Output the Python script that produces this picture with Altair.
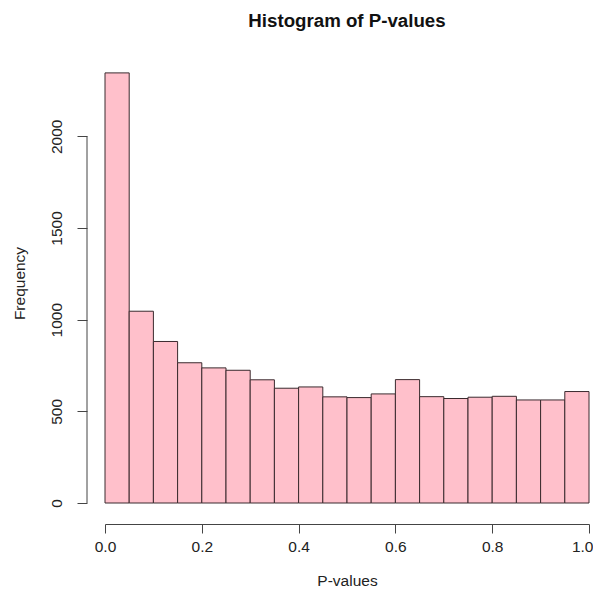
import altair as alt
import pandas as pd

bin_start = [0.00, 0.05, 0.10, 0.15, 0.20, 0.25, 0.30, 0.35, 0.40, 0.45,
             0.50, 0.55, 0.60, 0.65, 0.70, 0.75, 0.80, 0.85, 0.90, 0.95]
bin_end = [0.05, 0.10, 0.15, 0.20, 0.25, 0.30, 0.35, 0.40, 0.45, 0.50,
           0.55, 0.60, 0.65, 0.70, 0.75, 0.80, 0.85, 0.90, 0.95, 1.00]
counts = [2346, 1046, 881, 765, 737, 724, 672, 626, 633, 579,
          575, 595, 673, 580, 570, 577, 582, 562, 562, 608]
x_ticks = [0.0, 0.2, 0.4, 0.6, 0.8, 1.0]
y_ticks = [0, 500, 1000, 1500, 2000]

df = pd.DataFrame({"start": bin_start, "end": bin_end, "count": counts})
FONT = "Liberation Sans"
FS = 15.5

xscale = alt.Scale(domain=[0, 1], nice=False, zero=False)
yscale = alt.Scale(domain=[0, 2400], nice=False)

bars = alt.Chart(df).mark_rect(fill="#FFC0CB", stroke="#3a2a2e", strokeWidth=1).encode(
    x=alt.X("start:Q", scale=xscale,
            axis=alt.Axis(title="P-values", values=x_ticks, format=".1f", grid=False,
                          offset=21, tickSize=9, domainColor="#444", tickColor="#444",
                          labelFlush=False,
                          labelAlign={"condition": {"test": "datum.value >= 1", "value": "right"},
                                      "value": "center"},
                          labelOffset={"condition": {"test": "datum.value >= 1", "value": 4},
                                       "value": 0},
                          labelFontSize=FS, labelColor="#222", labelPadding=6,
                          titleFontSize=FS, titleFontWeight="normal", titleColor="#222",
                          titlePadding=19, labelFont=FONT, titleFont=FONT)),
    x2="end:Q",
    y=alt.Y("count:Q", scale=yscale,
            axis=alt.Axis(title="Frequency", values=y_ticks, format="d", grid=False, domain=False,
                          offset=18, tickSize=10, tickColor="#444",
                          labelAngle=-90, labelAlign="center", labelBaseline="bottom",
                          labelFlush=False,
                          labelFontSize=FS, labelColor="#222", labelPadding=13,
                          titleFontSize=FS, titleFontWeight="normal", titleColor="#222",
                          titlePadding=22, labelFont=FONT, titleFont=FONT)),
    y2=alt.datum(0),
)

yline = alt.Chart(pd.DataFrame({"a": [0], "b": [2000]})).mark_rule(color="#444", strokeWidth=1).encode(
    x=alt.value(-18),
    y=alt.Y("a:Q", scale=yscale),
    y2="b:Q",
)

chart = (bars + yline).properties(
    width=484,
    height=440,
    title=alt.TitleParams("Histogram of P-values", font=FONT, fontSize=18.7,
                          fontWeight="bold", color="#111", offset=32, anchor="middle"),
    autosize=alt.AutoSizeParams(type="none"),
    padding={"left": 97, "top": 55, "right": 4, "bottom": 87},
).configure_view(stroke=None)

chart.save("out.html", embed_options={"renderer": "svg", "actions": False})
